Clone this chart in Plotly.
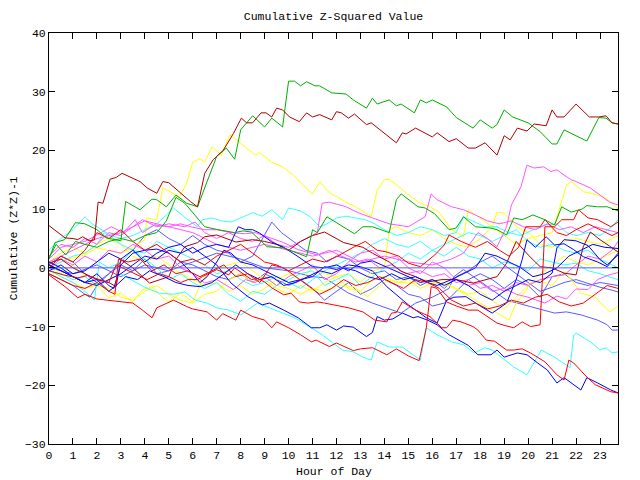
import plotly.graph_objects as go

# ---- data: (hour, cumulative z^2 - 1) nodes ----
green_a = [(0,1.5),(0.25,4.3),(0.65,4.8),(0.9,6.5),(1.1,7.7),(1.5,7.5),(2,6.5),(2.4,5.1),(3,4.6),(3.2,11.3),(3.8,9.9),(4.3,11.7),(4.5,11.6),(4.9,10.4),(5.3,12.4),(5.75,11),(6.2,10.4),(6.6,14.7),(7,19),(7.4,20.4),(7.75,18.5),(8,23.5),(8.5,25.9),(9,24),(9.3,25.5),(9.75,24),(10,31.8),(10.25,31.8),(10.5,31),(10.75,31.7),(11.1,31),(11.3,31),(11.8,29.8),(12.4,29.6),(12.7,28.6),(13.25,27.2),(13.5,28.9),(13.7,27.9),(14.2,28.6),(14.5,27.6),(14.7,27.9),(15.25,26.4),(15.5,28.6),(15.75,28.1),(16,28.6),(16.6,27.4),(17,25.6),(17.7,23.8),(18,25.2),(18.5,23.8),(18.7,24.4),(19,26.9),(19.35,25.7),(20,24.7),(20.5,23.2),(21,21.1),(21.2,21.1),(21.5,23.5),(22,22.5),(22.45,21.6),(22.95,25.6),(23.25,25.5),(23.5,24.7),(23.75,24.5)]
green_b = [(0,1.7),(0.3,4),(0.7,2.2),(1.1,4.5),(1.5,4),(2,3.5),(2.5,4.5),(3,5),(3.5,4.5),(4,5.5),(4.5,6),(4.9,8),(5.3,12),(5.67,11),(6.5,7),(7.05,6.5),(7.75,6),(8.1,6.3),(8.45,6.1),(8.8,4.8),(9.1,3.6),(9.8,3.4),(10.25,2.7),(10.75,1.9),(11,6.5),(11.2,6),(11.6,8.7),(12.1,7.5),(12.75,5.8),(13.1,7),(13.5,7),(14.2,6),(14.5,11.6),(14.7,12.6),(15.4,10.4),(15.7,10.2),(16.1,9.2),(16.7,6.5),(17,6.8),(17.3,8.7),(17.8,7),(18.4,6.8),(18.7,6.5),(19.1,5.6),(19.4,8.5),(19.75,8.2),(20.2,9),(20.7,8.2),(21.1,7.3),(21.4,10.4),(21.8,9.5),(22.25,10),(22.45,10.6),(22.9,10.4),(23.3,10.4),(23.75,9.7)]
darkred_a = [(0,7.2),(0.67,5.1),(1,5.0),(1.2,4.8),(1.4,5.3),(1.7,4.6),(1.9,4.8),(2.05,11.2),(2.25,11),(2.55,15.1),(2.8,15.4),(3.05,16.1),(3.8,14.7),(4.1,13.6),(4.5,12.7),(4.75,14.7),(5,14.5),(5.45,12.9),(5.9,11.3),(6.2,10.4),(6.5,16.1),(6.85,18.4),(7.27,20),(7.7,22.9),(8.03,25.5),(8.25,24.7),(8.5,24.7),(8.85,26.4),(9.06,26.4),(9.3,25.7),(9.5,27.2),(9.75,26.9),(10.04,25.7),(10.45,24.9),(10.75,26.4),(11,25.7),(11.3,26.1),(11.8,25.2),(12,26.6),(12.2,26.4),(12.5,25.5),(12.75,26.2),(13.25,24.4),(13.45,24.7),(13.9,23.2),(14.5,21.3),(14.75,23),(14.9,22.8),(15.3,23.8),(16,22.3),(16.2,23),(16.7,21.5),(17,22),(17.5,20.4),(17.8,20.4),(18.2,21.3),(18.7,19.2),(19,22.5),(19.25,21.8),(19.55,23.8),(19.95,23.3),(20.25,24.5),(20.75,24.2),(21,26.9),(21.2,25.7),(21.5,25.7),(22,27.9),(22.55,25.7),(22.95,25.7),(23.25,25.9),(23.5,24.7),(23.75,24.5)]
darkred_b = [(0,0.8),(0.5,1.5),(1,0),(1.5,-1),(2,-2),(2.5,-2.5),(2.8,-3.2),(3,1.4),(3.5,0),(4.2,-2.6),(4.6,-2),(5,-1.5),(5.3,1.4),(5.67,3.6),(6.2,4.3),(6.5,5.3),(7,5.6),(7.5,4.8),(7.8,4.4),(8.5,4.8),(9,4.5),(9.5,4),(10,3),(10.5,4.5),(11,5.5),(11.5,6.1),(12.3,4.3),(13.1,3.5),(13.5,2.5),(14.2,1),(14.7,-0.6),(15.3,-1.5),(15.8,-2.4),(16.4,-2),(17,-2),(17.7,-2.6),(18.3,-2),(18.7,-1.5),(19.1,0.8),(19.5,4.5),(20,2.2),(20.5,0.2),(21,0),(21.5,-0.9),(22,-1.2),(22.3,3.6),(22.6,6.1),(23,4.8),(23.4,3.7),(23.75,2.7)]
yellow_a = [(0,0),(0.5,1),(1,1.7),(1.5,2.2),(2,3.4),(2.5,3),(3,2.5),(3.5,3.5),(4,4.8),(4.08,8.5),(4.5,8.2),(4.75,13.6),(4.9,13.3),(5.45,12.1),(5.75,14.5),(6,18),(6.3,18.6),(6.5,18),(6.8,20.6),(7.2,19.2),(7.55,22.7),(7.96,21.3),(8.6,19.2),(8.8,19.6),(9.3,18),(9.75,17.2),(10.2,15.8),(10.6,14.1),(11,12.6),(11.3,14.7),(11.7,12.8),(12.4,11.2),(12.8,10.4),(13.45,8.7),(13.7,13.3),(14,15),(14.2,15.1),(14.9,12.8),(15.45,11.1),(15.9,10.4),(16.3,9.4),(16.8,6.5),(17.3,5.3),(17.5,9.9),(18,8.5),(18.5,7),(19,5.5),(19.5,4),(20,5),(20.5,5.5),(21,6),(21.3,10),(21.6,14.1),(21.8,14.7),(22.3,13),(22.8,12.5),(23.2,12),(23.5,11),(23.75,10)]
yellow_b = [(0,0.5),(0.5,-1),(1,0.5),(1.5,-1.5),(2,-3),(2.5,-3.5),(3,-5),(3.5,-5.5),(4,-4),(4.5,-3),(5,-4.5),(5.5,-5.5),(6,-6),(6.5,-4.5),(7,-4),(7.5,-2),(8,-1),(8.5,-2.5),(9,-1.5),(9.5,-3),(10,-3.5),(10.5,-4.5),(11,-3.5),(11.5,-4),(12,-3),(12.7,-3.2),(13.3,-4.9),(13.8,-3),(14.2,-2),(14.7,-2.5),(15.2,-2.6),(15.7,-2),(16.2,-2.6),(16.7,-3),(17.3,-4.3),(18,-6),(18.7,-7.7),(19.2,-8.9),(19.5,-6),(19.8,-4.5),(20.1,-2.6),(20.5,-2.2),(21,-3),(21.5,-0.6),(21.8,-2),(22.2,-4.3),(22.8,-5),(23.4,-7.5),(23.75,-6.5)]
yellow_c = [(0,-0.5),(0.5,-1.5),(1,-2.5),(1.5,-3.5),(2,-3),(2.5,-5.1),(3,-4.3),(3.5,-5.8),(3.9,-3.7),(4.3,-3.2),(4.7,-4.9),(5,-5.8),(5.5,-4.3),(6,-5.8),(6.3,-3),(6.6,-1),(7,-0.3),(7.5,0.5),(8,1),(8.5,-0.5),(9,-2),(9.5,-3.5),(10,-4.5),(10.5,-3),(11,-4),(11.5,-2.5),(12,-1.5),(12.5,-3.5),(13,-4),(13.5,-2),(14,-1.5),(14.5,-2.5),(15,-2),(15.5,-3.5),(16,-2.6),(16.5,-2.6),(17,-3.5),(17.5,-4.5),(18,-4),(18.5,-5.5),(19,-7),(19.5,-5),(20,-3),(20.5,-1),(21,0.5),(21.5,2),(22,1),(22.5,0.5),(23,1.5),(23.5,2.5),(23.75,3)]
yellow_d = [(0,1),(0.5,2.5),(1,3.5),(1.5,2.5),(2,4),(2.5,5),(3,4),(3.5,2),(4,1),(4.5,2),(5,0.5),(5.5,-1),(6,-2),(6.5,-3),(7,-2.5),(7.5,-4),(8,-3),(8.5,-4.5),(9,-3.5),(9.5,-2),(10,-1),(10.5,-2),(11,0),(11.5,-1),(12,-1.5),(12.5,-1),(13,-2.5),(13.5,-0.5),(14,0),(14.2,6.5),(14.5,7),(15,6),(15.5,5.5),(16,6.5),(16.5,5),(17,4),(17.5,3.5),(18,5),(18.5,7),(18.7,9.5),(19,9.3),(19.5,7),(20,6),(20.5,4),(21,3.5),(21.5,4.5),(22,5),(22.5,4.5),(23,4),(23.5,5),(23.75,5.5)]
magenta_a = [(0,1),(1,3),(2,5),(3,6),(4,8),(5,7),(6,6),(7,4),(8,3),(9,4),(10,3),(11,2),(12,3),(13,1),(14,2),(15,1),(16,0.5),(16.8,1.5),(17.3,2.5),(17.9,6),(18.3,5),(18.7,3.6),(19.1,7),(19.3,10.7),(19.7,13.8),(19.95,17.5),(20.25,17),(20.65,17.2),(20.95,16.4),(21.2,16.7),(21.5,15.8),(21.8,15),(22,14.7),(22.6,13.6),(23,12.4),(23.4,11.2),(23.75,10.7)]
magenta_b = [(0,2),(0.5,4),(1,3.5),(1.5,5),(2,4),(2.5,6),(3,5.5),(3.5,7),(3.9,8.2),(4.5,7),(5,7.5),(5.67,7),(6.1,7.8),(6.5,6),(7,5),(7.5,6),(8,5),(8.5,4.5),(9,5.5),(9.5,4),(10,3.5),(10.5,4.5),(11.2,6),(11.4,11),(11.7,11.2),(12.4,10.4),(12.9,9.4),(13.5,8.5),(14.2,7.5),(15,7),(15.7,8.7),(15.95,12.6),(16.2,11.6),(16.8,10.4),(17.3,9.9),(17.8,9),(18.3,8),(18.8,7.5),(19.3,8),(19.8,7),(20.3,6.5),(20.8,7.5),(21.3,6.5),(21.8,7),(22.3,6),(22.8,7),(23.3,6.5),(23.75,6)]
magenta_c = [(0,0),(0.5,1.5),(1,0.5),(1.5,2),(2,1),(2.5,3),(3,2.5),(3.5,4),(4,3),(4.5,1.5),(5,2),(5.5,0),(6,-1),(6.5,-2.6),(7,-2),(7.7,-3.7),(8.2,-2),(8.6,-2.5),(9,-1.5),(9.5,-3),(10,-1.5),(10.5,-0.5),(11,0.5),(11.5,-2),(12,-1),(12.5,1),(13,2.5),(13.5,3),(14,1.5),(14.5,2),(15,0),(15.5,-1),(16,1),(16.5,0),(17,-2),(17.5,-3),(18,-2.5),(18.5,-4),(19,-3.5),(19.5,-4.5),(20,-5),(20.7,-6),(21.2,-4.8),(21.6,-5.3),(22,-3.6),(22.5,-3.7),(22.9,-2),(23.3,-1.3),(23.75,-0.8)]
magenta_d = [(0,1.5),(0.5,3.5),(1,4),(1.5,4.5),(2,5.6),(2.6,7),(3.1,6),(3.6,8.2),(3.9,6),(4.4,7.3),(5,7),(5.5,7.5),(5.9,7),(6.5,6.5),(7,6.5),(7.6,6),(8.2,5.8),(8.6,6),(9.1,5.3),(9.8,4.3),(10.4,3.1),(11.2,2.2),(11.7,3),(12.2,2),(12.8,1),(13.3,1.5),(13.8,0),(14.3,0.5),(14.9,-1),(15.5,-0.5),(16,-1.5),(16.5,-1),(17,-2.5),(17.5,-2),(18,-3.5),(18.5,-3),(19,-4),(19.5,-2.5),(20,-3),(20.5,-2),(21,-1.5),(21.5,-1.2),(22,0.5),(22.5,2),(23,1.5),(23.5,3),(23.75,4.5)]
cyan_a = [(0,-0.5),(0.5,-1),(1,-2),(1.5,-1.5),(2,-3),(2.5,-2),(3,-1),(3.5,-2.2),(4,-3.3),(4.6,-4.3),(5.2,-4.5),(5.67,-4.1),(6.1,-5.5),(6.6,-6),(7,-6.8),(7.5,-7.2),(8,-8),(8.7,-6),(9,-6.5),(9.4,-7.2),(10.25,-8.5),(11.1,-10.6),(11.3,-11.1),(12.25,-14),(12.7,-14.3),(13.1,-15.2),(13.45,-15.7),(13.7,-12.6),(14.2,-13.5),(14.75,-13.5),(15.5,-15.7),(15.75,-10.2),(16.2,-11.4),(16.8,-12.6),(17.3,-13.1),(17.75,-14.5),(18.2,-13.6),(18.5,-14),(18.9,-15.3),(19.4,-16.9),(19.95,-18.2),(20.55,-14),(21.1,-15.2),(21.6,-16.5),(21.75,-17),(21.9,-11.4),(22,-11.1),(22.6,-12.6),(23,-14),(23.25,-13.6),(23.5,-14.5),(23.75,-14.3)]
cyan_b = [(0,-0.3),(0.5,-1.5),(1,-2.5),(1.5,-4),(1.9,-5.5),(2.1,1),(2.5,0),(3,1),(3.5,3),(4,1.5),(4.5,0),(5,-2),(5.5,-1),(6,-2.5),(6.5,-3.5),(7,-2.5),(7.5,-4.5),(8,-5.7),(8.5,-4),(9,-4.5),(9.5,-3),(10,-2),(10.5,-1),(11,-0.5),(11.5,-3),(12,-2),(12.5,-1),(13,-3),(13.5,-1.5),(14,0),(14.5,1),(15,2.5),(15.5,1.5),(16,3),(16.5,2),(17,3.5),(17.5,2),(18,1.5),(18.5,0),(19,1),(19.5,0.5),(20,-0.5),(20.5,1.5),(21,1),(21.5,0.5),(22,0.8),(22.5,-0.5),(23,-1),(23.75,-2)]
cyan_c = [(0,3),(0.5,5),(1,6.5),(1.5,8.7),(1.8,7.5),(2.2,6.5),(2.6,5.5),(3,5),(3.5,5.5),(4,6.5),(4.5,7.5),(4.9,9),(5.2,10.2),(5.7,8.5),(6.2,7),(6.4,8.2),(6.8,8.5),(7.2,8),(7.6,7.8),(8,8.5),(8.5,9.4),(8.9,8.8),(9.3,9.9),(9.75,8.2),(10,10.2),(10.5,9.7),(10.9,8.7),(11.3,7),(11.6,7.5),(12,8.5),(12.4,8.8),(12.8,8.5),(13.2,8.2),(13.6,7.5),(14,6.5),(14.5,5.5),(15,6),(15.5,7),(16,6.5),(16.5,5.5),(17,6),(17.3,8.7),(17.7,8),(18.2,7),(18.7,7),(19.2,6),(19.7,5.5),(20.2,6.5),(20.7,7.3),(21.2,7.5),(21.6,6),(22,5.5),(22.5,6),(23,5.5),(23.5,7),(23.75,8.2)]
cyan_d = [(0,0),(0.5,1),(1,2),(1.5,2.5),(2,4),(2.3,6),(2.7,5),(3,4),(3.5,3),(4,2.5),(4.5,4.5),(5,3.5),(5.5,2.5),(6,1.5),(6.5,0.5),(7,-1),(7.5,-0.5),(8,-2),(8.5,-3),(9,-2.5),(9.5,-1.5),(10,-2.5),(10.5,-3.5),(11,-2),(11.5,-0.5),(12,0.5),(12.5,1.5),(13,2.5),(13.5,4),(14,5),(14.5,4),(15,3.5),(15.5,4.5),(16,3),(16.5,4),(17,5),(17.5,6),(18,5.5),(18.5,4.5),(19,5.5),(19.5,6.5),(20,4.5),(20.5,3.5),(21,4),(21.5,3),(22,2.5),(22.5,3),(23,1.5),(23.5,0.5),(23.75,0)]
red_a = [(0,-0.5),(0.6,-1.2),(1.2,-1.7),(1.6,-1.3),(2.1,-2),(2.5,-2.5),(2.8,0.5),(3.2,-0.3),(3.6,-1),(4.1,-2),(4.6,-1),(5,-1.5),(5.5,-2.5),(5.8,-2),(6.2,-2),(6.4,-1.5),(7,-0.3),(7.5,-1.2),(7.75,0),(8.1,-1),(8.45,-2),(8.7,-1.8),(9,-2.4),(9.3,-3.4),(9.8,-4.6),(10.1,-4.3),(10.45,-5.8),(10.8,-6),(11.2,-5.8),(11.5,-6),(12,-6.4),(12.5,-6.8),(13.1,-7.5),(13.6,-8.9),(14.1,-9.2),(14.3,-7.7),(14.5,-7.6),(14.75,-5.8),(15.3,-7.2),(15.9,-8.3),(16.4,-10.2),(16.6,-10.2),(16.85,-8.9),(17.2,-9.2),(17.7,-10),(17.9,-10.6),(18.25,-12.3),(18.6,-12.5),(19.1,-14),(19.4,-14),(19.75,-13.8),(20.1,-14.5),(20.7,-16),(21.2,-18.2),(21.5,-19.1),(21.7,-15.7),(21.9,-16.2),(22.45,-18.6),(22.8,-19.9),(23.45,-21.1),(23.75,-21.3)]
red_b = [(0,-1.2),(0.67,-3.2),(1.2,-5.1),(1.5,-4.5),(2,-5.3),(2.5,-5.5),(3.04,-5.8),(3.5,-6),(3.9,-7.2),(4.3,-8.5),(4.5,-6.8),(4.75,-6.3),(5.2,-5.5),(5.75,-6.6),(6,-7),(6.6,-7.5),(7,-8.9),(7.25,-7.8),(7.5,-8.3),(7.8,-8.9),(8,-7.2),(8.5,-8.3),(9,-8.9),(9.3,-10.2),(9.5,-9.2),(10,-10.2),(10.5,-11.4),(10.95,-12.6),(11.15,-12.3),(11.3,-12.6),(11.7,-13.4),(12,-12.8),(12.7,-14.1),(13,-13.8),(13.5,-13.6),(14.1,-14.8),(14.5,-13.8),(15,-15),(15.45,-15.8),(15.75,-10.2),(15.95,-3.2),(16.2,-3.5),(16.6,-5.8),(17,-6.5),(17.5,-7.2),(17.9,-7.2),(18.7,-9.4),(19,-9.8),(19.4,-10.2),(19.75,-9.2),(20.1,-10),(20.5,-9.7),(20.6,0),(20.7,7),(21.1,7),(21.4,8.2),(21.9,8.2),(22.1,9.9),(22.5,8.5),(22.9,8.2),(23.45,7),(23.75,7.8)]
red_c = [(0,0),(0.5,2),(1,1),(1.5,3),(2,6),(2.5,5),(3,6.5),(3.5,4.5),(4,3),(4.5,4),(5,2.5),(5.5,1),(6,1.5),(6.5,0.5),(7,2),(7.5,3),(8,4),(8.5,2.5),(9,1),(9.5,0.5),(10,-0.5),(10.5,0.5),(11,1.5),(11.5,1),(12,1.9),(12.75,3.6),(13.2,4.5),(13.7,3),(14.1,2.7),(14.6,2),(15,0.8),(15.5,0.2),(16.1,2.2),(16.5,3.9),(16.7,5.6),(17.2,4.5),(17.8,3.5),(18.3,4.5),(18.8,3),(19.2,2),(19.6,3.5),(19.9,7),(20.5,7),(20.7,8.2),(21.2,6),(21.6,5.5),(22,6.5),(22.5,7.5),(23,6.5),(23.5,5.5),(23.75,6)]
red_d = [(0,-1),(0.5,-2),(1,-3),(1.5,-3.5),(2,-2.5),(2.5,-4),(2.75,-4.5),(2.9,1.5),(3.3,1),(3.8,1.5),(4.3,-0.5),(4.8,0.5),(5.3,-1),(5.8,-0.5),(6.3,-1.5),(6.8,-0.5),(7.3,0.5),(7.8,-1.5),(8.3,-1),(8.8,-2.5),(9.3,0.5),(9.8,0),(10.3,-1.5),(10.8,-3),(11.3,-4.5),(11.8,-3.5),(12.3,-2),(12.8,-3),(13.3,-2.5),(13.8,-1.5),(14.3,-2.5),(14.8,-3.5),(15.3,-2),(15.8,-2.5),(16.3,-3.5),(16.8,-5.5),(17.3,-6.5),(17.8,-6),(18.3,-7),(18.8,-6.5),(19.3,-5.5),(19.8,-6),(20.3,-5),(20.8,-4.5),(21.3,-5.8),(21.8,-6.5),(22.3,-6),(22.8,-4.5),(23.3,-3),(23.75,-3.5)]
blue_a = [(0,0.5),(0.5,-0.5),(1,-1.5),(1.5,-2.5),(2,-3),(2.5,-2),(3,-1),(3.5,0.5),(4,2),(4.5,1.5),(5,3),(5.5,2.5),(6,3.5),(6.5,2),(7,0.5),(7.6,-2.6),(8.3,-4.9),(8.9,-6.3),(9.2,-6),(9.8,-7.2),(10.4,-8.5),(10.95,-10.2),(11.3,-10.2),(11.6,-9.7),(12,-10.6),(12.3,-9.9),(12.7,-10.1),(13.25,-11.7),(13.5,-11),(13.7,-8.3),(14,-8.9),(14.35,-8.7),(14.75,-7.7),(15.2,-8.5),(15.4,-8.3),(15.8,-8.9),(16.2,-9.7),(16.7,-11.4),(17.2,-12.6),(17.5,-13.2),(17.9,-14.8),(18.45,-14.8),(18.7,-14),(19,-15.2),(19.55,-14.5),(19.95,-14.8),(20.4,-16.2),(20.8,-17.4),(21.2,-19.6),(21.5,-18.7),(22.2,-20.8),(22.45,-18.7),(22.9,-19.6),(23.45,-20.8),(23.75,-21.3)]
blue_b = [(0,0.5),(0.5,-0.5),(1,-1.5),(1.5,-2.5),(2,-1),(2.5,-3),(2.7,-3.5),(3,0.5),(3.5,2.5),(4,3),(4.5,3.2),(5,2.5),(5.5,1),(6,-1),(6.3,-2.5),(6.6,-1.5),(7,1),(7.3,3),(7.6,2.5),(8,1),(8.5,0.5),(9,-0.5),(9.5,-1.5),(10,-2.5),(10.5,-2),(11,-1.5),(11.5,0.2),(12,-0.3),(12.5,0.5),(13,0.2),(13.5,-0.5),(14.1,-3.2),(15,-6.3),(15.75,-8.5),(16.2,-9.4),(16.6,-5.5),(16.9,-5),(17.4,-4.9),(18,-6.5),(18.5,-7.7),(19.1,-6),(19.5,-2),(19.75,1.4),(19.95,4.8),(20.3,3.5),(20.75,5.3),(21.1,3.9),(21.5,4.1),(21.9,3.1),(22.3,1.9),(22.9,1),(23.3,0.2),(23.75,2.5)]
blue_c = [(0,-0.5),(0.5,0.5),(1,-1),(1.5,-0.5),(2,1),(2.5,2.5),(3,1.5),(3.5,3),(4,1),(4.5,2.5),(5,3.5),(5.5,4),(6,2.5),(6.5,3.5),(7,4),(7.5,3.5),(7.9,7),(8.2,6.5),(8.5,6.5),(8.8,5.9),(9.3,4.4),(9.8,3.5),(10.4,1.9),(11,0.2),(11.5,0),(12,0.5),(12.5,-0.5),(13,0.8),(13.5,1.2),(14,0.3),(14.5,-0.5),(15,-1.5),(15.5,-2.5),(16,-2),(16.5,-3),(17,-2),(17.5,-3),(18,-4.5),(18.5,-5.5),(19,-4),(19.5,-3),(20,-2),(20.5,-2.5),(21,-0.9),(21.2,3.4),(21.5,4.8),(22,4.6),(22.5,3.8),(23,1.4),(23.3,0.5),(23.75,2.2)]
blue_d = [(0,1),(0.5,0),(1,-1.5),(1.5,-2.5),(2,-2),(2.5,-4),(2.8,-3),(3.2,-1.5),(3.7,-2),(4.2,-0.5),(4.8,-1.5),(5.3,-2.5),(5.8,-3),(6.3,-3.2),(6.8,-2.5),(7.3,-1),(7.8,0.5),(8.3,-1),(8.8,-2),(9.3,-1.5),(9.8,-3),(10.3,-2.5),(10.8,-1.5),(11.3,-0.5),(11.8,-1),(12.3,0),(12.8,-0.5),(13.3,-1.5),(13.8,-2),(14.3,-1),(14.8,-2),(15.3,-1.5),(15.8,-2.5),(16.2,-3),(16.8,-2),(17.3,-1),(17.8,0),(18.2,2.5),(18.7,2),(19.2,1),(19.7,0),(20.2,-1.5),(20.7,-1),(21.2,0),(21.7,2),(22.2,3),(22.7,4),(23.2,3.5),(23.75,3.3)]
slate_a = [(0,0),(1,-1),(2,0.5),(3,-1.5),(4,0.5),(5,-0.5),(6,1),(7,2.5),(8,1.5),(9,0),(10,-0.5),(11,-1.5),(11.5,-1.7),(12.5,-4.3),(13.5,-6),(14.7,-7.7),(15.3,-6),(16,-5),(16.7,-3.5),(16.9,-1.5),(17.3,-0.3),(18.3,-3.2),(19.1,-5.5),(20.1,-6.6),(21.1,-7.7),(21.6,-7.5),(22.2,-8),(22.9,-8.9),(23.3,-9.7),(23.5,-10.6),(23.75,-10.6)]
slate_b = [(0,0.5),(0.5,2),(1,1),(1.5,-1),(2,-2.5),(2.5,-1),(3,1),(3.5,3),(4,5.5),(4.5,6.5),(5,5),(5.5,4),(6,5.5),(6.5,4),(7,3),(7.5,2.5),(8,1),(8.5,2),(9.3,7.8),(9.7,6),(10.2,4.5),(10.7,3),(11.2,2.5),(11.6,1),(12,2),(12.5,1.5),(13,0),(13.5,-1),(14,-0.5),(14.5,-2),(15,-1.5),(15.5,-3),(16,-2),(16.5,-3.5),(17,-1.5),(17.5,-0.5),(18,1),(18.5,2),(19,0.5),(19.5,-1),(20,-2.5),(20.5,-4),(21,-3.3),(21.5,-2.5),(22,-2),(22.5,-2.7),(23,-3.3),(23.5,-3.8),(23.75,-4.1)]
slate_c = [(0,-1),(0.5,-2),(1,-3),(1.5,-4.5),(1.7,-5),(2,-3),(2.5,-1),(3,0.5),(3.5,-0.5),(4,1.5),(4.5,-1),(5,-0.5),(5.5,1),(6,0.5),(6.5,-0.5),(7,-1.5),(7.5,-2),(8,-1),(8.5,-2.5),(9,-1),(9.5,-2),(10,-3),(10.5,-2),(11,-3.5),(11.5,-5.5),(12,-4),(12.5,-2.5),(13,-4.5),(13.5,-3.5),(14,-2),(14.5,-3),(15,-4.5),(15.5,-5),(16,-6.5),(16.5,-6),(17,-4),(17.5,-2),(18,-1),(18.5,-2),(19,-3.5),(19.5,-2),(20,-3),(20.5,-5),(21,-1.5),(21.5,-1),(22,-2.5),(22.5,-3),(23,-2.5),(23.75,-3)]
zero_line = [(0,0),(23.75,0)]

x_ticks = list(range(0, 24))
y_ticks = [-30, -20, -10, 0, 10, 20, 30, 40]

RED = "#ff0000"; GREEN = "#00b000"; BLUE = "#0000ff"; MAG = "#ff55ff"
CYAN = "#33ffff"; DRED = "#b00000"; YEL = "#ffff00"; SLATE = "#5a5aff"

series = [
    (slate_c, SLATE), (slate_b, SLATE), (slate_a, SLATE),
    (yellow_d, YEL), (yellow_c, YEL), (yellow_b, YEL), (yellow_a, YEL),
    (cyan_d, CYAN), (cyan_c, CYAN), (cyan_b, CYAN), (cyan_a, CYAN),
    (magenta_d, MAG), (magenta_c, MAG), (magenta_b, MAG), (magenta_a, MAG),
    (darkred_b, DRED), (blue_d, BLUE), (blue_c, BLUE), (blue_b, BLUE), (blue_a, BLUE),
    (red_d, RED), (red_c, RED), (red_b, RED), (red_a, RED),
    (green_b, GREEN), (green_a, GREEN), (darkred_a, DRED),
    (zero_line, SLATE),
]

fig = go.Figure()
for pts, col in series:
    fig.add_trace(go.Scatter(
        x=[p[0] for p in pts], y=[p[1] for p in pts],
        mode="lines", line=dict(color=col, width=1), hoverinfo="skip"))

FONT = dict(family="Liberation Mono, DejaVu Sans Mono, monospace", size=11.5, color="black")
axis_common = dict(showline=True, linecolor="black", linewidth=1, mirror="ticks",
                   ticks="inside", ticklen=6, tickcolor="black", showgrid=False,
                   zeroline=False, tickfont=FONT)
fig.update_layout(
    width=640, height=480, plot_bgcolor="white", paper_bgcolor="white",
    margin=dict(l=49, r=22, t=33, b=36), showlegend=False,
    title=dict(text="Cumulative Z-Squared Value", x=0.5, xref="paper",
               y=1 - 16 / 480, yanchor="middle", font=FONT),
    xaxis=dict(range=[0, 23.75], tickvals=x_ticks, **axis_common),
    yaxis=dict(range=[-30, 40], tickvals=y_ticks, **axis_common),
    annotations=[
        dict(text="Hour of Day", xref="paper", yref="paper", x=0.5,
             y=-27 / 411, showarrow=False, font=FONT, yanchor="middle"),
        dict(text="Cumulative (Z*Z)-1", xref="paper", yref="paper",
             x=-36 / 569, y=0.5, showarrow=False, font=FONT, textangle=-90,
             xanchor="center"),
    ],
)
fig.write_html("out.html")
